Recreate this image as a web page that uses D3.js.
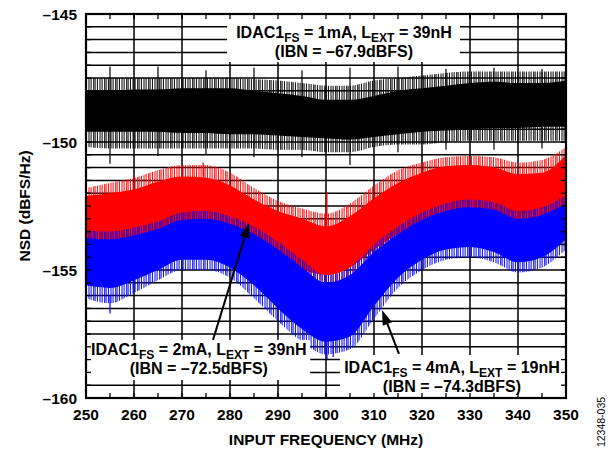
<!DOCTYPE html>
<html><head><meta charset="utf-8">
<script src="https://cdn.jsdelivr.net/npm/d3@7"></script>
<style>
html,body{margin:0;padding:0;background:#fff;}
svg{display:block;font-family:"Liberation Sans",Arial,sans-serif;}
</style></head>
<body>
<svg id="c" width="610" height="451"></svg>
<script>
// ---- data ----
const freqs = [250,255,260,265,270,275,280,285,290,295,300,305,310,315,320,325,330,335,340,345,350];

// IDAC1FS = 1mA, LEXT = 39nH (black)
const blackPkHi = [-147.5,-147.5,-147.5,-147.5,-147.5,-147.5,-147.5,-147.55,-147.6,-147.7,-147.8,-147.8,-147.6,-147.5,-147.4,-147.3,-147.25,-147.25,-147.25,-147.25,-147.25];
const blackHi   = [-148.0,-148.0,-147.95,-147.95,-147.9,-147.9,-147.9,-148.0,-148.1,-148.2,-148.35,-148.35,-148.2,-148.0,-147.9,-147.8,-147.7,-147.65,-147.7,-147.7,-147.6];
const blackLo   = [-149.6,-149.6,-149.6,-149.6,-149.65,-149.65,-149.7,-149.7,-149.75,-149.8,-149.85,-149.9,-149.8,-149.7,-149.6,-149.55,-149.5,-149.45,-149.45,-149.4,-149.4];
const blackPkLo = [-150.2,-150.25,-150.25,-150.25,-150.25,-150.25,-150.25,-150.25,-150.3,-150.3,-150.4,-150.4,-150.2,-150.1,-150.1,-150.0,-149.95,-149.95,-149.95,-149.95,-149.95];
const blackSpurF  = [255,265,275,285,295,305,315,325,335,345];
const blackSpurHi = [-147.05,-147.05,-147.2,-147.1,-147.2,-147.1,-147.05,-147.15,-147.1,-147.15];
const blackSpurLo = [-150.85,-150.55,-150.5,-150.6,-150.6,-150.9,-150.4,-150.3,-150.3,-150.25];

// IDAC1FS = 2mA, LEXT = 39nH (red)
const redPkHi = [-151.8,-151.6,-151.4,-151.1,-150.9,-150.9,-151.2,-151.8,-152.3,-152.6,-152.8,-152.4,-151.7,-151.1,-150.8,-150.6,-150.55,-150.6,-150.8,-150.7,-150.2];
const redHi   = [-152.1,-152.0,-151.85,-151.55,-151.35,-151.4,-151.7,-152.25,-152.7,-153.0,-153.3,-152.9,-152.2,-151.6,-151.2,-150.95,-150.9,-151.0,-151.25,-151.2,-150.5];
const redLo   = [-154.0,-154.0,-153.8,-153.5,-153.3,-153.3,-153.6,-154.2,-154.7,-155.0,-155.2,-154.9,-154.2,-153.6,-153.2,-152.9,-152.8,-152.9,-153.2,-153.1,-152.5];
const redPkLo = [-154.4,-154.4,-154.2,-153.9,-153.7,-153.7,-154.0,-154.6,-155.1,-155.4,-155.6,-155.3,-154.6,-154.0,-153.6,-153.3,-153.2,-153.3,-153.6,-153.5,-152.9];
const redSpurF  = [274.4,300.2];
const redSpurHi = [-150.8,-151.95];

// IDAC1FS = 4mA, LEXT = 19nH (blue)
const bluePkHi = [-153.45,-153.5,-153.35,-153.1,-152.75,-152.7,-152.9,-153.3,-153.9,-154.6,-155.2,-154.9,-154.0,-153.3,-152.75,-152.4,-152.25,-152.35,-152.7,-152.55,-152.1];
const blueHi   = [-153.75,-153.8,-153.65,-153.4,-153.05,-153.0,-153.2,-153.6,-154.2,-154.9,-155.5,-155.2,-154.3,-153.6,-153.05,-152.7,-152.55,-152.65,-153.0,-152.85,-152.4];
const blueLo   = [-155.6,-155.7,-155.4,-155.0,-154.6,-154.6,-154.9,-155.6,-156.5,-157.3,-157.8,-157.6,-156.4,-155.3,-154.6,-154.2,-154.1,-154.3,-154.7,-154.5,-153.8];
const bluePkLo = [-156.1,-156.3,-155.9,-155.4,-155.0,-155.0,-155.3,-156.1,-157.0,-157.8,-158.3,-158.1,-156.9,-155.7,-155.0,-154.6,-154.5,-154.7,-155.1,-154.9,-154.2];
const blueSpurF  = [255,300.2,301.5];
const blueSpurLo = [-156.7,-158.5,-158.4];

const xTicks = [250,260,270,280,290,300,310,320,330,340,350];
const yTicks = [-145,-150,-155,-160];
const yTickLabels = ["–145","–150","–155","–160"];

// ---- chart ----
const svg = d3.select("#c");
const L=86,R=566,T=14,B=398;
const x = d3.scaleLinear().domain([250,350]).range([L,R]);
const y = d3.scaleLinear().domain([-160,-145]).range([B,T]);

svg.append("rect").attr("width",610).attr("height",451).attr("fill","#fff");

// spiky fringe patterns
const defs = svg.append("defs");
[["pk","#000"],["pr","#ff0000"],["pb","#0000ff"]].forEach(([id,col])=>{
  const p = defs.append("pattern").attr("id",id).attr("patternUnits","userSpaceOnUse").attr("width",11).attr("height",4);
  [[0.5,1],[2.6,1],[5.2,1.2],[6.8,0.8],[8.9,1]].forEach(([px,w])=>
    p.append("rect").attr("x",px).attr("y",0).attr("width",w).attr("height",4).attr("fill",col));
});

// grid
const g = svg.append("g").attr("stroke","#000").attr("stroke-width",1.5);
d3.range(260,350,10).forEach(f=>g.append("line").attr("x1",x(f)).attr("x2",x(f)).attr("y1",T).attr("y2",B));
d3.range(-159.5,-145,0.5).forEach(v=>g.append("line").attr("x1",L).attr("x2",R).attr("y1",y(v)).attr("y2",y(v)));

function band(hiArr, loArr){
  return d3.area().x((d,i)=>x(freqs[i])).y0((d,i)=>y(loArr[i])).y1((d,i)=>y(hiArr[i])).curve(d3.curveMonotoneX)(freqs);
}
function trace(color, pat, pkHi, hi, lo, pkLo){
  const gg = svg.append("g");
  gg.append("path").attr("d",band(pkHi,pkLo)).attr("fill",`url(#${pat})`);
  gg.append("path").attr("d",band(hi,lo)).attr("fill",color);
  return gg;
}
const gb = trace("#000","pk", blackPkHi, blackHi, blackLo, blackPkLo);
gb.selectAll("line.s").data(blackSpurF).enter().append("line")
  .attr("x1",d=>x(d)).attr("x2",d=>x(d)).attr("y1",(d,i)=>y(blackSpurHi[i])).attr("y2",(d,i)=>y(blackSpurLo[i]))
  .attr("stroke","#000").attr("stroke-width",1.2);
const gr = trace("#ff0000","pr", redPkHi, redHi, redLo, redPkLo);
gr.selectAll("line.s").data(redSpurF).enter().append("line")
  .attr("x1",d=>x(d)).attr("x2",d=>x(d)).attr("y1",(d,i)=>y(redSpurHi[i])).attr("y2",d=>y(-153.5))
  .attr("stroke","#ff0000").attr("stroke-width",1.2);
const gbl = trace("#0000ff","pb", bluePkHi, blueHi, blueLo, bluePkLo);
gbl.selectAll("line.s").data(blueSpurF).enter().append("line")
  .attr("x1",d=>x(d)).attr("x2",d=>x(d)).attr("y1",d=>y(-156)).attr("y2",(d,i)=>y(blueSpurLo[i]))
  .attr("stroke","#0000ff").attr("stroke-width",1.2);

// annotation boxes
const boxes = [
  {f0:279.4,f1:327.9,v0:-145,v1:-146.875},
  {f0:250,f1:296.7,v0:-157.73,v1:-159.3},
  {f0:302.9,f1:350,v0:-158.32,v1:-160}
];
boxes.forEach(b=>svg.append("rect").attr("x",x(b.f0)).attr("y",y(b.v0)).attr("width",x(b.f1)-x(b.f0)).attr("height",y(b.v1)-y(b.v0)).attr("fill","#fff"));

const labels = [
  {f:303.75,v:-145.94,ma:"1mA",nh:"39nH",ibn:"(IBN = –67.9dBFS)"},
  {f:273.5,v:-158.32,ma:"2mA",nh:"39nH",ibn:"(IBN = –72.5dBFS)"},
  {f:326.25,v:-159.02,ma:"4mA",nh:"19nH",ibn:"(IBN = –74.3dBFS)"}
];
labels.forEach(l=>{
  const t = svg.append("text").attr("x",x(l.f)).attr("y",y(l.v)).attr("text-anchor","middle")
    .attr("font-size",16).attr("font-weight","bold").attr("fill","#000");
  t.append("tspan").text("IDAC1");
  t.append("tspan").attr("font-size",12).attr("dy",4).text("FS");
  t.append("tspan").attr("dy",-4).text(" = "+l.ma+", L");
  t.append("tspan").attr("font-size",12).attr("dy",4).text("EXT");
  t.append("tspan").attr("dy",-4).text(" = "+l.nh);
  svg.append("text").attr("x",x(l.f)).attr("y",y(l.v)+19).attr("text-anchor","middle")
    .attr("font-size",16).attr("font-weight","bold").text(l.ibn);
});

// arrows
const arrows = [
  {f0:276.46,v0:-157.73,f1:283.96,v1:-153.16},
  {f0:315.2,v0:-158.28,f1:311.67,v1:-156.56}
];
arrows.forEach(a=>{
  const x0=x(a.f0),y0=y(a.v0),x1=x(a.f1),y1=y(a.v1);
  const ang=Math.atan2(y1-y0,x1-x0), len=15, w=5;
  const bx=x1-len*Math.cos(ang), by=y1-len*Math.sin(ang);
  svg.append("line").attr("x1",x0).attr("y1",y0).attr("x2",bx).attr("y2",by).attr("stroke","#000").attr("stroke-width",2);
  const p=[[x1,y1],[bx+w*Math.sin(ang),by-w*Math.cos(ang)],[bx-w*Math.sin(ang),by+w*Math.cos(ang)]];
  svg.append("path").attr("d","M"+p.map(q=>q.join(",")).join("L")+"Z").attr("fill","#000");
});

// minor ticks (inward)
const tk = svg.append("g").attr("stroke","#000").attr("stroke-width",1.3);
d3.range(255,350,5).forEach(f=>{
  tk.append("line").attr("x1",x(f)).attr("x2",x(f)).attr("y1",T).attr("y2",T+5);
  tk.append("line").attr("x1",x(f)).attr("x2",x(f)).attr("y1",B).attr("y2",B-5);
});
d3.range(-159.5,-145,0.5).forEach(v=>{
  tk.append("line").attr("x1",L).attr("x2",L+5).attr("y1",y(v)).attr("y2",y(v));
  tk.append("line").attr("x1",R).attr("x2",R-5).attr("y1",y(v)).attr("y2",y(v));
});

// border
svg.append("rect").attr("x",L).attr("y",T).attr("width",R-L).attr("height",B-T).attr("fill","none").attr("stroke","#000").attr("stroke-width",2.2);

// axes labels
svg.append("g").selectAll("text").data(xTicks).enter().append("text")
  .attr("x",d=>x(d)).attr("y",420).attr("text-anchor","middle").attr("font-size",15.5).attr("font-weight","bold").text(d=>d);
svg.append("g").selectAll("text").data(yTicks).enter().append("text")
  .attr("x",77).attr("y",d=>y(d)+5.5).attr("text-anchor","end").attr("font-size",15.5).attr("font-weight","bold").text((d,i)=>yTickLabels[i]);

svg.append("text").attr("x",(L+R)/2).attr("y",445).attr("text-anchor","middle").attr("font-size",15.5).attr("font-weight","bold").text("INPUT FREQUENCY (MHz)");
svg.append("text").attr("transform",`translate(30,${(T+B)/2}) rotate(-90)`).attr("text-anchor","middle").attr("font-size",15.5).attr("font-weight","bold").text("NSD (dBFS/Hz)");
svg.append("text").attr("transform","translate(605,422) rotate(-90)").attr("text-anchor","middle").attr("font-size",10.5).text("12348-035");
</script>
</body></html>
